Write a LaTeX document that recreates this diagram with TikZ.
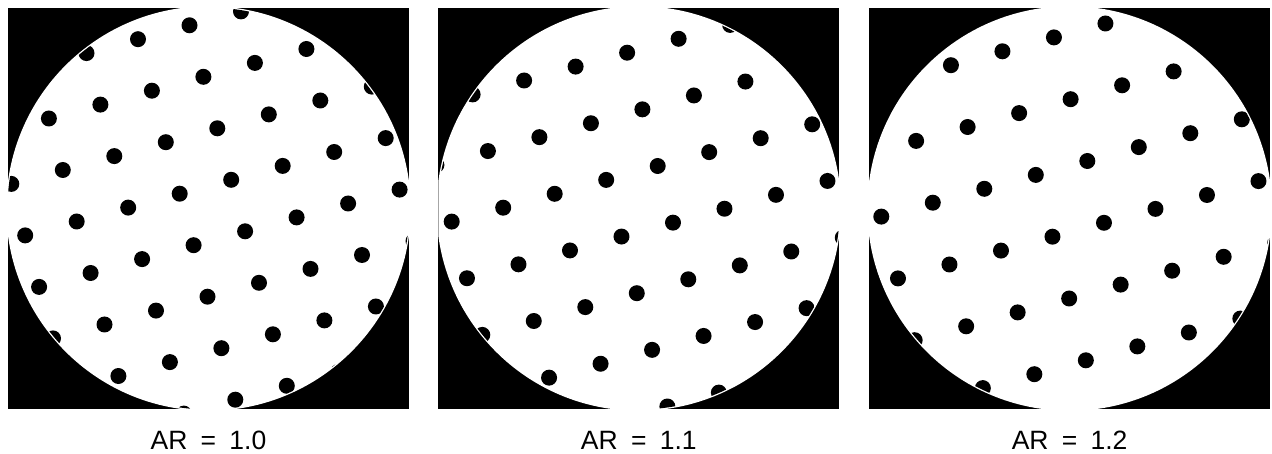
\documentclass[tikz,border=0pt]{standalone}
\usepackage{fontspec}
\setmainfont{Liberation Sans}[WordSpace=1.8]
\usetikzlibrary{positioning}

\begin{document}
\begin{tikzpicture}[
  x=1pt,y=-1pt,
  frame/.style ={fill=black},
  disk/.style  ={fill=white},
  hole/.style  ={fill=black},
  arlabel/.style={anchor=base,inner sep=0pt,
                 font=\fontsize{26.5}{30}\selectfont},
]
\useasboundingbox[fill=white] (0,0) rectangle (1272,454);

%% ── Panels: centre x / lattice offset / aspect ratio / name ─────────────────
\foreach \cx/\ox/\oy/\ar/\name in {208.5/8.8/-80.2/1.0/one,
                                   638.8/18.9/-42.5/1.1/two,
                                   1069.6/17.7/-47.5/1.2/three}{
  \coordinate (c\name) at (\cx,208.5);
  \begin{scope}
    \fill[frame] (\cx-200.5,8) rectangle (\cx+200.5,409);
    \clip (\cx-200.5,8) rectangle (\cx+200.5,409);
    \fill[disk] (c\name) circle[radius=202.3pt];
    \clip (c\name) circle[radius=201pt];
    %% ── hole lattice, rows tilted, row spacing stretched by AR
    \foreach \i in {-6,...,6}{
      \foreach \j in {-6,...,6}{
        \fill[hole] (\cx+\ox+\i*51.5+\j*13.9*\ar,
                     208.5+\oy-\i*13.9+\j*51.5*\ar) circle[radius=8pt];
      }
    }
  \end{scope}
  \node[arlabel] (lab\name) at (\cx,449.5) {AR = \ar};
}

\end{tikzpicture}
\end{document}
